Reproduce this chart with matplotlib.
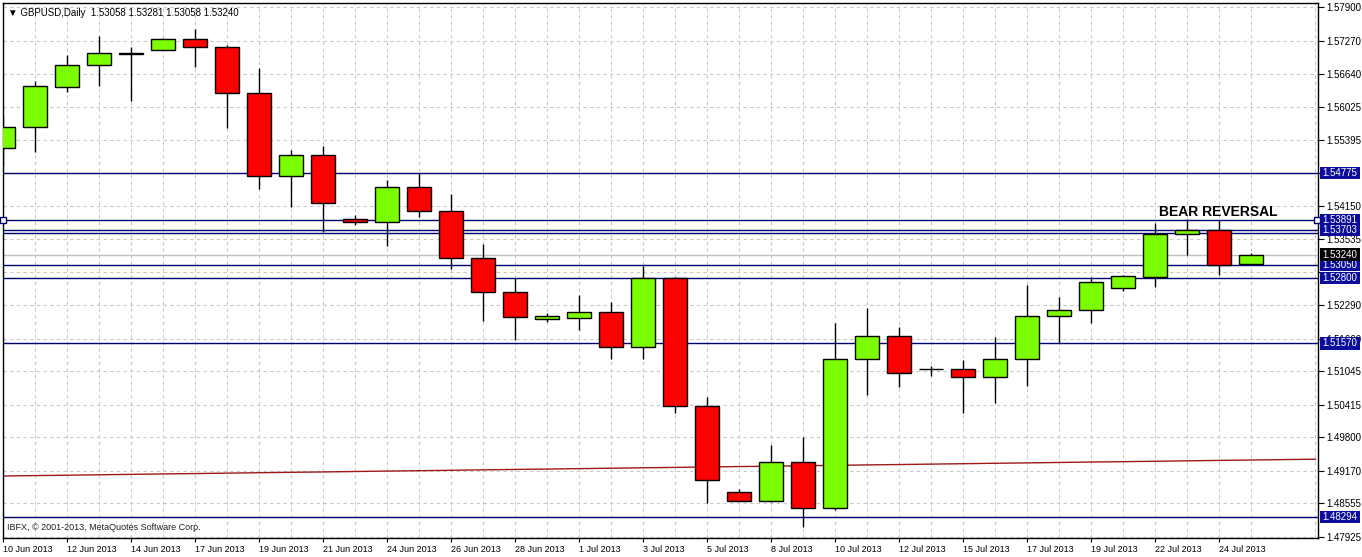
import matplotlib
matplotlib.use("Agg")
import matplotlib.pyplot as plt
import matplotlib.transforms as mtransforms
from matplotlib.patches import Rectangle

# GBPUSD daily bars, 10 Jun 2013 .. 25 Jul 2013 (broker shows Sunday bars)
opens = [1.55251, 1.55646, 1.56400, 1.56814, 1.57045, 1.57097, 1.57304, 1.57153, 1.56287, 1.54723,
         1.55119, 1.53907, 1.53851, 1.54510, 1.54069, 1.53173, 1.52543, 1.52035, 1.52053, 1.52155,
         1.51496, 1.52796, 1.50390, 1.48764, 1.48600, 1.49329, 1.48463, 1.51270, 1.51709, 1.51078,
         1.51081, 1.50931, 1.51270, 1.52085, 1.52198, 1.52607, 1.52826, 1.53630, 1.53706, 1.53058]
highs = [1.55853, 1.56513, 1.57003, 1.57361, 1.57153, 1.57315, 1.57493, 1.57191, 1.56758, 1.55213,
         1.55288, 1.53988, 1.54648, 1.54785, 1.54384, 1.53442, 1.52796, 1.52136, 1.52481, 1.52355,
         1.53027, 1.52826, 1.50554, 1.48826, 1.49655, 1.49811, 1.51948, 1.52231, 1.51884, 1.51143,
         1.51256, 1.51695, 1.52669, 1.52438, 1.52826, 1.52858, 1.53843, 1.53907, 1.53894, 1.53281]
lows = [1.54911, 1.55175, 1.56306, 1.56419, 1.56136, 1.57090, 1.56777, 1.55627, 1.54478, 1.54139,
        1.53668, 1.53800, 1.53404, 1.53956, 1.52965, 1.51991, 1.51633, 1.51972, 1.51822, 1.51275,
        1.51275, 1.50264, 1.48557, 1.48595, 1.48590, 1.48116, 1.48440, 1.50597, 1.50742, 1.50955,
        1.50264, 1.50441, 1.50772, 1.51571, 1.51948, 1.52562, 1.52626, 1.53235, 1.52858, 1.53058]
closes = [1.55646, 1.56419, 1.56814, 1.57040, 1.57030, 1.57304, 1.57153, 1.56287, 1.54723, 1.55119,
          1.54214, 1.53851, 1.54510, 1.54069, 1.53173, 1.52543, 1.52072, 1.52085, 1.52155, 1.51496,
          1.52796, 1.50390, 1.48996, 1.48600, 1.49329, 1.48463, 1.51270, 1.51709, 1.51017, 1.51084,
          1.50931, 1.51270, 1.52085, 1.52198, 1.52726, 1.52839, 1.53630, 1.53706, 1.53046, 1.53240]

# shifted moving average (runs past the last bar)
ma = [1.49071, 1.49079, 1.49086, 1.49094, 1.49102, 1.49110, 1.49117, 1.49125, 1.49133, 1.49141,
      1.49148, 1.49156, 1.49164, 1.49171, 1.49179, 1.49187, 1.49195, 1.49202, 1.49210, 1.49218,
      1.49226, 1.49233, 1.49241, 1.49249, 1.49256, 1.49264, 1.49272, 1.49280, 1.49287, 1.49295,
      1.49303, 1.49311, 1.49318, 1.49326, 1.49334, 1.49341, 1.49349, 1.49357, 1.49365, 1.49372,
      1.49380, 1.49388]

date_labels = ['10 Jun 2013', '12 Jun 2013', '14 Jun 2013', '17 Jun 2013', '19 Jun 2013',
               '21 Jun 2013', '24 Jun 2013', '26 Jun 2013', '28 Jun 2013', '1 Jul 2013',
               '3 Jul 2013', '5 Jul 2013', '8 Jul 2013', '10 Jul 2013', '12 Jul 2013',
               '15 Jul 2013', '17 Jul 2013', '19 Jul 2013', '22 Jul 2013', '24 Jul 2013']

price_ticks = [1.57900, 1.57270, 1.56640, 1.56025, 1.55395, 1.54775, 1.54150, 1.53535, 1.52920,
               1.52290, 1.51660, 1.51045, 1.50415, 1.49800, 1.49170, 1.48555, 1.47925]
# scale labels that sit fully under a price box in the chart
hidden_ticks = [1.54775, 1.52920]

# horizontal levels drawn on the chart
levels = [1.54775, 1.53891, 1.53703, 1.53656, 1.53050, 1.52800, 1.51570, 1.48294]
level_labels = [1.54775, 1.53891, 1.53703, 1.53050, 1.52800, 1.51570, 1.48294]
bid = 1.53240

GREEN = '#7cfc00'
RED = '#ff0000'
NAVY = '#000070'
BOX = '#0c0c9c'

plt.rcParams['font.family'] = ['Liberation Sans', 'DejaVu Sans']

fig = plt.figure(figsize=(13.62, 5.57), dpi=100)
ax = fig.add_axes([0.002, 0.0341, 0.9657, 0.9611])

n = len(opens)
xs = list(range(n))

# grid
ax.set_xticks(list(range(0, n, 2)))
ax.set_xticks(list(range(1, 42, 2)), minor=True)
ax.set_yticks(price_ticks)
ax.grid(True, which='both', axis='x', color='#c8c8c8', linestyle=(0, (3, 3)), lw=0.8, zorder=0)
ax.grid(True, which='major', axis='y', color='#c8c8c8', linestyle=(0, (3, 3)), lw=0.8, zorder=0)
ax.set_axisbelow(True)

# moving average
ax.plot(list(range(len(ma))), ma, color='#a01818', lw=1, zorder=1)

# horizontal lines
for lv in levels:
    ax.axhline(lv, color=NAVY, lw=1, zorder=1.5)
ax.axhline(bid, color='#c0c0c0', lw=1, zorder=1.2)
ax.plot([-0.02, 41.06], [1.53891, 1.53891], ls='none', marker='s', ms=4,
        mfc='white', mec=NAVY, mew=1, zorder=5, clip_on=False)

# candles
for i in xs:
    o, h, l, c = opens[i], highs[i], lows[i], closes[i]
    ax.vlines(i, l, h, color='black', lw=1, zorder=2)
    col = GREEN if c >= o else RED
    ax.bar(i, abs(c - o), bottom=min(o, c), width=0.75, color=col,
           edgecolor='black', lw=1, zorder=3)

ax.set_xlim(-0.02, 41.08)
ax.set_ylim(1.47903, 1.57988)

# axes styling
for s in ax.spines.values():
    s.set_color('black')
    s.set_linewidth(1)
ax.yaxis.tick_right()
ax.set_yticklabels(['' if t in hidden_ticks else '%.5f' % t for t in price_ticks])
ax.tick_params(axis='y', direction='out', length=4, labelsize=7, pad=2, colors='black')
ax.set_xticklabels(date_labels, ha='left')
ax.tick_params(axis='x', which='major', direction='out', length=3, labelsize=6.5, pad=2)
ax.tick_params(axis='x', which='minor', length=0)

# price boxes on the right scale (fixed pixel size, like the terminal draws them)
trans = mtransforms.blended_transform_factory(ax.transAxes, ax.transData)
box_h = 0.00235
def price_box(v, fc, z):
    ax.add_patch(Rectangle((1.0016, v - box_h / 2), 0.0306, box_h, transform=trans,
                           fc=fc, ec='none', clip_on=False, zorder=z))
    ax.text(1.0034, v, '%.5f' % v, transform=trans, fontsize=7, color='white',
            va='center', ha='left', clip_on=False, zorder=z + 0.1)

for k, lv in enumerate(level_labels):
    price_box(lv, BOX, 6 + k * 0.2)
price_box(bid, 'black', 9)

# texts
ax.text(0.004, 0.99, '\u25bc GBPUSD,Daily  1.53058 1.53281 1.53058 1.53240',
        transform=ax.transAxes, fontsize=7, va='top', ha='left', color='black')
ax.text(0.003, 0.012, 'IBFX, \u00a9 2001-2013, MetaQuotes Software Corp.',
        transform=ax.transAxes, fontsize=6.5, va='bottom', ha='left', color='#202020')
ax.text(36.12, 1.53969, 'BEAR REVERSAL', fontsize=10, fontweight='bold',
        ha='left', va='baseline', color='black', zorder=6)

fig.savefig('out.png', dpi=100, facecolor='white')
